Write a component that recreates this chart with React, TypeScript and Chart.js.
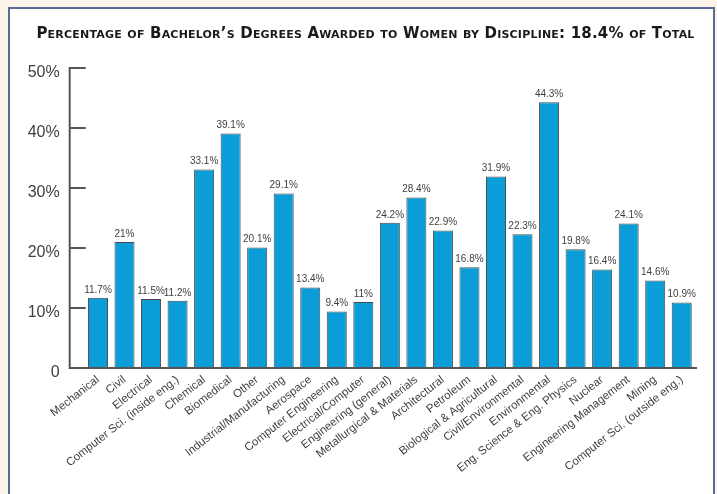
import React, { useEffect, useRef } from "react";
import { Chart, registerables } from "chart.js";

Chart.register(...registerables);

const TITLE = "Percentage of Bachelor’s Degrees Awarded to Women by Discipline: 18.4% of Total";

const categories = [
  "Mechanical",
  "Civil",
  "Electrical",
  "Computer Sci. (inside eng.)",
  "Chemical",
  "Biomedical",
  "Other",
  "Industrial/Manufacturing",
  "Aerospace",
  "Computer Engineering",
  "Electrical/Computer",
  "Engineering (general)",
  "Metallurgical & Materials",
  "Architectural",
  "Petroleum",
  "Biological & Agricultural",
  "Civil/Environmental",
  "Environmental",
  "Eng. Science & Eng. Physics",
  "Nuclear",
  "Engineering Management",
  "Mining",
  "Computer Sci. (outside eng.)",
];

const womenShare = [
  11.7, 21, 11.5, 11.2, 33.1, 39.1, 20.1, 29.1, 13.4, 9.4, 11, 24.2, 28.4, 22.9,
  16.8, 31.9, 22.3, 44.3, 19.8, 16.4, 24.1, 14.6, 10.9,
];

const yTickValues = [0, 10, 20, 30, 40, 50];

const AXIS_GAP = 15;
const TICK_LEN = 16;
const AXIS_COLOR = "#555555";
const TEXT_COLOR = "#3f3f3f";
const BAR_COLOR = "#0a9dd7";
const FONT = "'Liberation Sans', Arial, sans-serif";
const TITLE_FONT = "'DejaVu Sans', sans-serif";

const titlePlugin = {
  id: "smallCapsTitle",
  afterDraw(chart: any) {
    const ctx = chart.ctx;
    ctx.save();
    ctx.font = `small-caps bold 15px ${TITLE_FONT}`;
    try {
      (ctx as any).letterSpacing = "0.2px";
    } catch (e) {}
    ctx.fillStyle = "#1a1a1a";
    ctx.textAlign = "center";
    ctx.textBaseline = "middle";
    ctx.fillText(TITLE, chart.width / 2 + 7, 34);
    ctx.restore();
  },
};

const decorPlugin = {
  id: "decor",
  afterDatasetsDraw(chart: any) {
    const { ctx, chartArea, scales } = chart;
    const y = scales.y;
    const ax = chartArea.left - AXIS_GAP;
    const y0 = y.getPixelForValue(yTickValues[0]);
    const yTop = y.getPixelForValue(yTickValues[yTickValues.length - 1]);
    ctx.save();
    ctx.strokeStyle = AXIS_COLOR;
    ctx.lineWidth = 2;
    ctx.beginPath();
    ctx.moveTo(ax, yTop);
    ctx.lineTo(ax, y0);
    ctx.lineTo(chartArea.right + 2, y0);
    yTickValues.forEach((v) => {
      if (v > 0) {
        const p = y.getPixelForValue(v);
        ctx.moveTo(ax - 1, p);
        ctx.lineTo(ax + TICK_LEN, p);
      }
    });
    ctx.stroke();

    const meta = chart.getDatasetMeta(0);
    ctx.fillStyle = TEXT_COLOR;
    ctx.font = `10px ${FONT}`;
    ctx.textAlign = "center";
    ctx.textBaseline = "bottom";
    meta.data.forEach((bar: any, i: number) => {
      ctx.fillText(`${womenShare[i]}%`, bar.x, bar.y - 3);
    });
    ctx.restore();
  },
};

export default function App() {
  const canvasRef = useRef<HTMLCanvasElement | null>(null);

  useEffect(() => {
    const canvas = canvasRef.current;
    if (!canvas) return;
    const chart = new Chart(canvas, {
      type: "bar",
      data: {
        labels: categories,
        datasets: [
          {
            data: womenShare,
            backgroundColor: BAR_COLOR,
            borderColor: "#4a4a4a",
            borderWidth: 1,
            barPercentage: 0.755,
            categoryPercentage: 1,
          },
        ],
      },
      options: {
        responsive: false,
        animation: false,
        devicePixelRatio: 1,
        layout: { padding: { left: 20, right: 22, top: 68, bottom: 0 } },
        plugins: {
          legend: { display: false },
          tooltip: { enabled: false },
          title: { display: false },
        },
        scales: {
          x: {
            offset: true,
            grid: { display: false, drawTicks: false },
            border: { display: false },
            ticks: {
              autoSkip: false,
              maxRotation: 38,
              minRotation: 38,
              padding: 5,
              color: TEXT_COLOR,
              font: { family: FONT, size: 11.5 },
            },
            afterFit(s: any) {
              s.height = 126;
            },
          },
          y: {
            min: 0,
            max: 50,
            grid: { display: false, drawTicks: false },
            border: { display: false },
            ticks: {
              stepSize: 10,
              padding: 25,
              labelOffset: 5,
              color: TEXT_COLOR,
              font: { family: FONT, size: 16 },
              callback: (v: any) => (Number(v) === 0 ? "0" : `${v}%`),
            },
            afterFit(s: any) {
              s.width = 64.7;
            },
          },
        },
      },
      plugins: [decorPlugin, titlePlugin],
    });
    return () => chart.destroy();
  }, []);

  return (
    <div
      style={{
        position: "fixed",
        left: 0,
        top: 0,
        width: 717,
        height: 494,
        background: "#fcf4e8",
        overflow: "hidden",
      }}
    >
      <div
        style={{
          position: "absolute",
          left: 8,
          top: 7,
          width: 703,
          height: 600,
          border: "2px solid #566a96",
          background: "#ffffff",
        }}
      />
      <canvas
        ref={canvasRef}
        width={717}
        height={494}
        style={{ position: "absolute", left: 0, top: 0, width: 717, height: 494 }}
      />
    </div>
  );
}
